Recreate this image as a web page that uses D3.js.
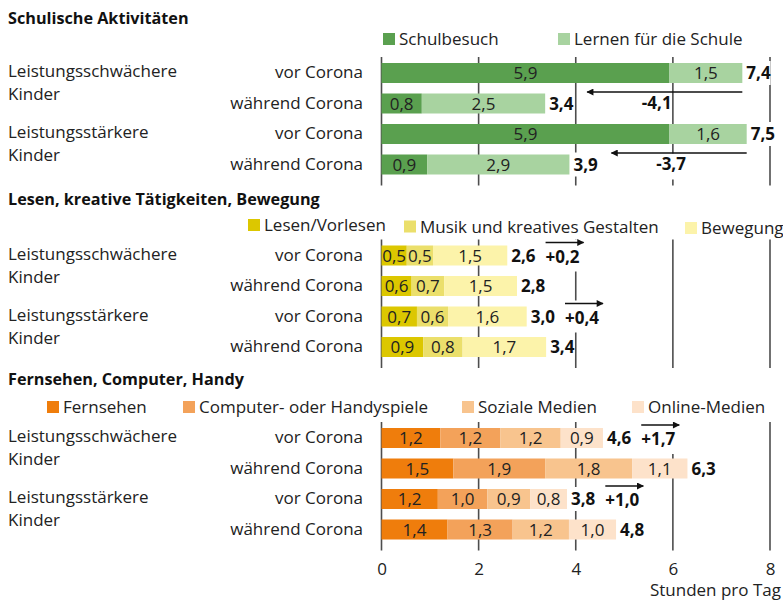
<!DOCTYPE html>
<html>
<head>
<meta charset="utf-8">
<script src="https://cdn.jsdelivr.net/npm/d3@7"></script>
<style>
  html, body { margin: 0; padding: 0; background: #fff; }
  svg { display: block; font-family: "Open Sans", Lato, "Noto Sans", sans-serif; }
</style>
</head>
<body>
<svg id="chart" width="783" height="600"></svg>
<script>
// ---------------- DATA ----------------
const axisTicks = [0, 2, 4, 6, 8];
const axisTitle = "Stunden pro Tag";
const groupLabels = [["Leistungsschwächere", "Kinder"], ["Leistungsstärkere", "Kinder"]];
const periodLabels = ["vor Corona", "während Corona"];

const sectionTitles = ["Schulische Aktivitäten", "Lesen, kreative Tätigkeiten, Bewegung", "Fernsehen, Computer, Handy"];

const schoolSeries = ["Schulbesuch", "Lernen für die Schule"];
const schoolColors = ["#5aa04f", "#a8d3a0"];
// rows: schwächer vor, schwächer während, stärker vor, stärker während
const schoolValues = [[5.93, 1.50], [0.83, 2.54], [5.93, 1.59], [0.94, 2.93]];
const schoolChanges = [-4.1, -3.7];

const leisureSeries = ["Lesen/Vorlesen", "Musik und kreatives Gestalten", "Bewegung"];
const leisureColors = ["#dcc700", "#ebdf6b", "#fcf3aa"];
const leisureValues = [[0.52, 0.54, 1.53], [0.62, 0.67, 1.50], [0.73, 0.64, 1.62], [0.86, 0.81, 1.72]];
const leisureChanges = [0.2, 0.4];

const mediaSeries = ["Fernsehen", "Computer- oder Handyspiele", "Soziale Medien", "Online-Medien"];
const mediaColors = ["#ef7d0c", "#f3a25a", "#f8c48e", "#fde2ca"];
const mediaValues = [[1.21, 1.24, 1.24, 0.87], [1.48, 1.89, 1.79, 1.14], [1.16, 1.02, 0.88, 0.76], [1.36, 1.34, 1.16, 0.97]];
const mediaChanges = [1.7, 1.0];

// ---------------- LAYOUT ----------------
const sections = [
  { title: sectionTitles[0], series: schoolSeries, colors: schoolColors, values: schoolValues, changes: schoolChanges },
  { title: sectionTitles[1], series: leisureSeries, colors: leisureColors, values: leisureValues, changes: leisureChanges },
  { title: sectionTitles[2], series: mediaSeries, colors: mediaColors, values: mediaValues, changes: mediaChanges }
];
const layout = [
  { titleY: 24, legendY: 45, legendX: [383, 558], firstRow: 73 },
  { titleY: 205, legendY: 231, legendX: [248, 404, 685], firstRow: 255.5 },
  { titleY: 385, legendY: 413, legendX: [47, 183, 462, 632], firstRow: 438 }
];
const rowSpan = 91.5, barH = 20;
const FS = 17;

const locale = d3.formatLocale({ decimal: ",", thousands: ".", grouping: [3], currency: ["", " €"], minus: "-" });
const fmt = locale.format(".1f");
const fmtChange = locale.format("+.1f");

const svg = d3.select("#chart");
svg.append("rect").attr("width", 783).attr("height", 600).attr("fill", "#fff");

const x = d3.scaleLinear().domain([0, 8]).range([381.5, 770]);

const gGrid = svg.append("g");
const gBox = svg.append("g");
const gBars = svg.append("g");
const gText = svg.append("g");
const gArrow = svg.append("g");

svg.append("defs").append("marker")
  .attr("id", "ah").attr("viewBox", "0 0 10 10").attr("refX", 9).attr("refY", 5)
  .attr("markerWidth", 9).attr("markerHeight", 7).attr("markerUnits", "userSpaceOnUse")
  .attr("orient", "auto")
  .append("path").attr("d", "M0,0 L10,5 L0,10 Z").attr("fill", "#111");

sections.forEach((sec, si) => {
  const L = layout[si];
  const rowIds = d3.range(4);
  const y = d3.scalePoint().domain(rowIds).range([L.firstRow, L.firstRow + rowSpan]);

  // title
  gText.append("text").attr("x", 8).attr("y", L.titleY)
    .attr("font-size", 16.2).attr("font-weight", "bold").attr("fill", "#111").text(sec.title);

  // legend
  sec.series.forEach((name, k) => {
    const lx = L.legendX[k];
    const dy = si === 1 ? k * 1.5 : 0;
    gText.append("rect").attr("x", lx).attr("y", L.legendY - 12 + dy).attr("width", 12).attr("height", 12)
      .attr("fill", sec.colors[k]);
    gText.append("text").attr("x", lx + 16).attr("y", L.legendY + dy)
      .attr("font-size", FS).attr("fill", "#222").text(name);
  });

  // gridlines
  gGrid.selectAll(null).data(axisTicks).join("line")
    .attr("x1", d => x(d)).attr("x2", d => x(d))
    .attr("y1", y(0) - 16).attr("y2", y(3) + 21)
    .attr("stroke", "#4d4d4d").attr("stroke-width", 1.6);

  // row labels
  groupLabels.forEach((lines, gi) => {
    lines.forEach((t, li) => {
      gText.append("text").attr("x", 8).attr("y", y(gi * 2) + 4 + li * 23)
        .attr("font-size", FS).attr("fill", "#222").text(t);
    });
  });
  rowIds.forEach(r => {
    gText.append("text").attr("x", 363).attr("y", y(r) + 5).attr("text-anchor", "end")
      .attr("font-size", FS).attr("fill", "#222").text(periodLabels[r % 2]);
  });

  // bars
  const totals = sec.values.map(v => d3.sum(v));
  sec.values.forEach((vals, r) => {
    let acc = 0;
    vals.forEach((v, k) => {
      const x0 = x(acc), x1 = x(acc + v);
      gBars.append("rect").attr("x", x0).attr("y", y(r) - barH / 2)
        .attr("width", x1 - x0).attr("height", barH).attr("fill", sec.colors[k]);
      gText.append("text").attr("x", (x0 + x1) / 2).attr("y", y(r) + 6)
        .attr("text-anchor", "middle").attr("font-size", FS).attr("fill", "#222").text(fmt(v));
      acc += v;
    });
  });

  // totals
  const totalEnds = [];
  totals.forEach((t, r) => {
    const tx = x(t) + 4;
    const txt = gText.append("text").attr("x", tx).attr("y", y(r) + 6)
      .attr("font-size", FS).attr("font-weight", "bold").attr("fill", "#111").text(fmt(t));
    const w = txt.node().getComputedTextLength();
    totalEnds.push(tx + w);
    gBox.append("rect").attr("x", tx).attr("y", y(r) - 12).attr("width", w).attr("height", 24).attr("fill", "#fff");
  });

  // changes
  sec.changes.forEach((c, gi) => {
    const rv = gi * 2, rw = gi * 2 + 1;
    if (c < 0) {
      const ax1 = x(totals[rv]);
      const ax2 = x(totals[rw]) + 42;
      const ay = y(rv) + barH / 2 + 9;
      gArrow.append("line").attr("x1", ax1).attr("x2", ax2).attr("y1", ay).attr("y2", ay)
        .attr("stroke", "#111").attr("stroke-width", 1.5).attr("marker-end", "url(#ah)");
      const cx = (ax1 + ax2) / 2 - 8;
      const t = gText.append("text").attr("x", cx).attr("y", y(rw) + 5).attr("text-anchor", "middle")
        .attr("font-size", FS).attr("font-weight", "bold").attr("fill", "#111").text(fmtChange(c));
      const w = t.node().getComputedTextLength();
      gBox.append("rect").attr("x", cx - w / 2).attr("y", y(rw) - 11).attr("width", w).attr("height", 26).attr("fill", "#fff");
    } else {
      const ax1 = totalEnds[rv] + 10;
      const ax2 = ax1 + 38;
      const ay = y(rv) - barH / 2 - 3;
      gArrow.append("line").attr("x1", ax1).attr("x2", ax2).attr("y1", ay).attr("y2", ay)
        .attr("stroke", "#111").attr("stroke-width", 1.5).attr("marker-end", "url(#ah)");
      gText.append("text").attr("x", ax1).attr("y", y(rv) + 7)
        .attr("font-size", FS).attr("font-weight", "bold").attr("fill", "#111").text(fmtChange(c));
      gBox.append("rect").attr("x", ax1).attr("y", ay - 3).attr("width", ax2 - ax1 + 2).attr("height", y(rv) + 16 - (ay - 3)).attr("fill", "#fff");
    }
  });
});

// axis
const axis = d3.axisBottom(x).tickValues(axisTicks).tickSize(0).tickFormat(d3.format("d"));
const gAxis = svg.append("g").attr("transform", "translate(0,575)").call(axis);
gAxis.select(".domain").remove();
gAxis.attr("font-family", null).attr("font-size", null);
gAxis.selectAll("text").attr("y", 0).attr("dy", 0).attr("font-size", FS).attr("fill", "#222");

svg.append("text").attr("x", 781).attr("y", 596).attr("text-anchor", "end")
  .attr("font-size", FS).attr("fill", "#222").text(axisTitle);
</script>
</body>
</html>
